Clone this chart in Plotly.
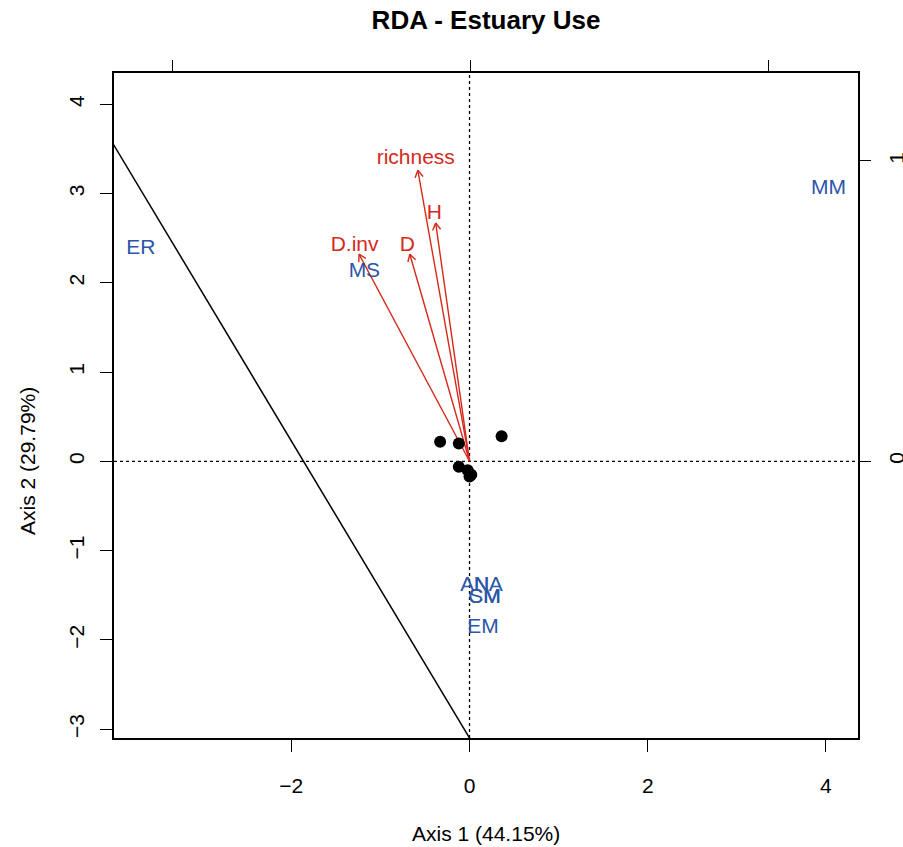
import numpy as np
import plotly.graph_objects as go

# ---------------- data ----------------
env_names = ["richness", "H", "D", "D.inv"]
env_x = [-0.58, -0.38, -0.67, -1.24]
env_y = [3.26, 2.67, 2.32, 2.32]
LABEL_MULT = 1.04

sp_names = ["ER", "MS", "MM", "AN", "NA", "CM", "SM", "EM"]
sp_x = [-3.69, -1.18, 4.03, 0.06, 0.21, 0.17, 0.17, 0.15]
sp_y = [2.38, 2.12, 3.05, -1.39, -1.39, -1.53, -1.53, -1.87]

site_x = [-0.33, -0.12, 0.36, -0.12, -0.02, 0.02, 0.00]
site_y = [0.22, 0.20, 0.28, -0.06, -0.10, -0.15, -0.17]

line_intercept = -3.10
line_slope = -1.664

x_ticks = [-2, 0, 2, 4]
y_ticks = [-3, -2, -1, 0, 1, 2, 3, 4]
top_ticks = [-1, 0, 1]
right_ticks = [0, 1]

X_RANGE = [-3.99, 4.36]
Y_RANGE = [-3.10, 4.35]
X2_RANGE = [-1.195, 1.302]
Y2_RANGE = [-0.923, 1.293]

RED = "#D42A1C"
BLUE = "#2D55A8"
FONT = "Liberation Sans, Arial, sans-serif"
FS = 21

fig = go.Figure()

# dotted reference lines through origin
fig.add_trace(go.Scatter(x=[X_RANGE[0], X_RANGE[1]], y=[0, 0], mode="lines",
                         line=dict(color="black", width=1.3, dash="dot"),
                         hoverinfo="skip", showlegend=False))
fig.add_trace(go.Scatter(x=[0, 0], y=[Y_RANGE[0], Y_RANGE[1]], mode="lines",
                         line=dict(color="black", width=1.3, dash="dot"),
                         hoverinfo="skip", showlegend=False))

# solid fitted line
lx = np.array([X_RANGE[0] - 1, X_RANGE[1] + 1])
fig.add_trace(go.Scatter(x=lx, y=line_intercept + line_slope * lx, mode="lines",
                         line=dict(color="black", width=1.5),
                         hoverinfo="skip", showlegend=False))

# arrows (shafts + open heads)
head_len = 0.09
head_ang = np.deg2rad(30)
ax_, ay_ = [], []
for ex, ey in zip(env_x, env_y):
    ax_ += [0, ex, None]
    ay_ += [0, ey, None]
    th = np.arctan2(ey, ex)
    for s in (1, -1):
        a = th + np.pi + s * head_ang
        ax_ += [ex, ex + head_len * np.cos(a), None]
        ay_ += [ey, ey + head_len * np.sin(a), None]
fig.add_trace(go.Scatter(x=ax_, y=ay_, mode="lines",
                         line=dict(color=RED, width=1.4),
                         hoverinfo="skip", showlegend=False))

# site points
fig.add_trace(go.Scatter(x=site_x, y=site_y, mode="markers",
                         marker=dict(color="black", size=12),
                         showlegend=False))

# env labels
fig.add_trace(go.Scatter(x=[v * LABEL_MULT for v in env_x],
                         y=[v * LABEL_MULT for v in env_y],
                         mode="text", text=env_names, textposition="middle center",
                         textfont=dict(color=RED, size=FS, family=FONT),
                         showlegend=False))

# species labels
fig.add_trace(go.Scatter(x=sp_x, y=sp_y, mode="text", text=sp_names,
                         textposition="middle center",
                         textfont=dict(color=BLUE, size=FS, family=FONT),
                         showlegend=False))

# invisible trace for secondary axes
fig.add_trace(go.Scatter(x=[0], y=[0], xaxis="x2", yaxis="y2", mode="markers",
                         marker=dict(opacity=0), hoverinfo="skip", showlegend=False))

axis_common = dict(showgrid=False, zeroline=False, ticks="outside", ticklen=12,
                   tickwidth=1.3, tickcolor="black", linecolor="black", linewidth=1.5,
                   tickfont=dict(size=FS, family=FONT, color="black"), automargin=False)

W, H = 903, 847
L, R, T, B = 114, 45, 73, 109
pw, ph = W - L - R, H - T - B

fig.update_layout(
    width=W, height=H,
    margin=dict(l=L, r=R, t=T, b=B),
    paper_bgcolor="white", plot_bgcolor="white",
    font=dict(family=FONT, color="black"),
    title=dict(text="<b>RDA - Estuary Use</b>", x=486 / W, xanchor="center",
               y=1 - 20 / H, yanchor="middle", yref="container",
               font=dict(size=26, family=FONT, color="black")),
    xaxis=dict(range=X_RANGE, tickvals=x_ticks, showline=True, mirror=True,
               ticklabelstandoff=16, **axis_common),
    yaxis=dict(range=Y_RANGE, tickvals=y_ticks, showline=True, mirror=True,
               tickangle=-90, ticklabelstandoff=8, **axis_common),
    xaxis2=dict(range=X2_RANGE, tickvals=top_ticks, overlaying="x", side="top",
                showticklabels=False, showline=False, **axis_common),
    yaxis2=dict(range=Y2_RANGE, tickvals=right_ticks, overlaying="y", side="right",
                tickangle=-90, ticklabelstandoff=8, showline=False, **axis_common),
    annotations=[
        dict(text="Axis 1 (44.15%)", x=(486 - L) / pw, y=(H - 833 - B) / ph,
             xref="paper", yref="paper", showarrow=False, xanchor="center",
             yanchor="middle", font=dict(size=FS, family=FONT, color="black")),
        dict(text="Axis 2 (29.79%)", x=(27 - L) / pw, y=(H - 461 - B) / ph,
             xref="paper", yref="paper", showarrow=False, xanchor="center",
             yanchor="middle", textangle=-90,
             font=dict(size=FS, family=FONT, color="black")),
    ],
)

fig.write_html("out.html")
